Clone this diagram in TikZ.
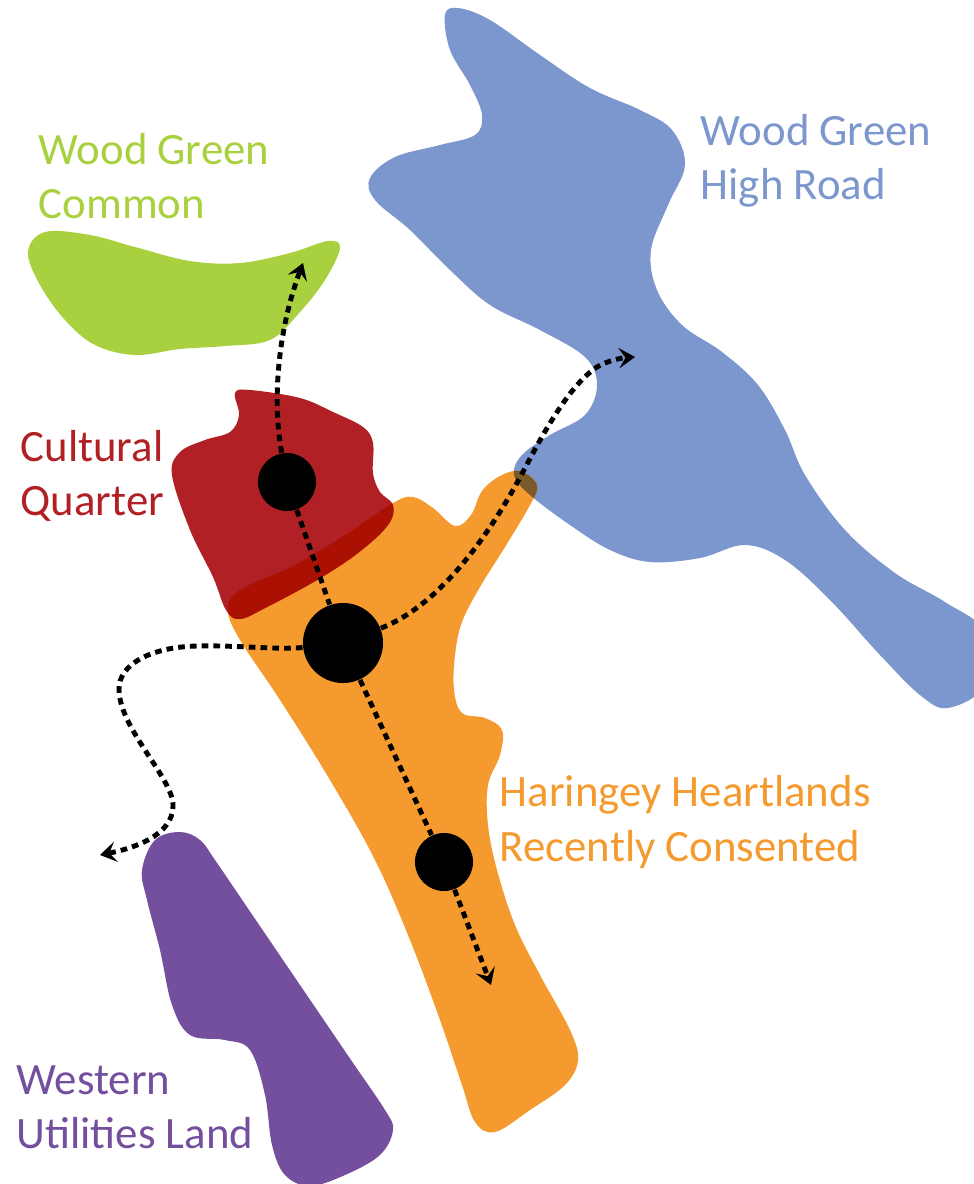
\documentclass[tikz,border=0pt]{standalone}
\usepackage{fontspec}
\setmainfont{Carlito}
\usetikzlibrary{arrows.meta,calc}

\definecolor{greenarea}{HTML}{A9D13F}
\definecolor{bluearea}{HTML}{7C96CE}
\definecolor{orangearea}{HTML}{F59A2E}
\definecolor{redarea}{HTML}{B12025}
\definecolor{purplearea}{HTML}{744F9E}
\definecolor{redorange}{HTML}{AB1103}
\definecolor{blueorange}{HTML}{7A5A28}

\tikzset{
    hub/.style={circle,fill=black,inner sep=0pt,minimum size=#1},
    route/.style={black,line width=1.4pt,dash pattern=on 1.9pt off 1.45pt},
    routetip/.style={route,-{Stealth[length=4.6pt,width=5.8pt,inset=1.9pt]}},
    arealabel/.style={align=left,anchor=north west,font=\fontsize{12.75}{15.4}\selectfont,inner sep=0pt},
    area/.style={smooth cycle,tension=0.6}
}

\def\greenpts{(45,232) (90,235) (135,247) (190,261) (240,263) (290,253) (328,241) (340,248) (325,280) (300,312) (270,340) (225,346) (180,349) (135,355) (95,345) (65,320) (40,285) (28,252)}
\def\bluepts{(445,15) (458,8) (490,20) (540,55) (590,88) (640,110) (672,130) (685,165) (668,205) (651,250) (657,290) (682,325) (722,352) (758,385) (785,430) (805,475) (845,530) (895,573) (945,602) (985,632) (985,685) (948,708) (920,695) (880,655) (830,600) (785,560) (745,545) (700,558) (650,562) (610,550) (570,525) (530,495) (514,475) (522,455) (550,435) (585,415) (597,385) (585,357) (540,330) (490,305) (450,270) (410,230) (375,200) (370,178) (395,157) (440,145) (475,135) (482,115) (470,85) (450,50)}
\def\orangepts{(413,497) (433,508) (455,526) (471,515) (482,491) (500,476) (520,471) (537,485) (530,505) (505,547) (480,587) (462,622) (455,655) (454,690) (462,713) (485,718) (502,730) (500,755) (488,785) (488,825) (497,870) (515,925) (540,975) (570,1030) (578,1060) (565,1085) (530,1110) (495,1132) (475,1122) (462,1085) (440,1020) (410,940) (375,860) (330,780) (280,700) (240,640) (228,610) (240,590) (295,565) (345,535) (393,503)}
\def\redpts{(235,393) (250,390) (300,398) (333,412) (363,427) (373,443) (373,473) (380,492) (393,505) (388,525) (358,553) (317,580) (267,607) (240,619) (226,610) (213,577) (190,530) (172,475) (180,452) (205,440) (230,432) (239,415)}
\def\purplepts{(180,832) (200,840) (215,860) (249,910) (283,960) (317,1010) (351,1060) (385,1110) (393,1130) (380,1155) (345,1175) (310,1186) (285,1175) (272,1145) (265,1095) (250,1050) (225,1040) (190,1035) (172,1005) (160,950) (147,900) (142,870) (155,840)}

\begin{document}
\begin{tikzpicture}[x=0.01cm,y=-0.01cm]
    \useasboundingbox (0,0) rectangle (974,1184);

    % Areas
    \fill[greenarea] plot[area] coordinates {\greenpts};
    \fill[bluearea] plot[area] coordinates {\bluepts};
    \fill[orangearea] plot[area] coordinates {\orangepts};
    \fill[redarea] plot[area] coordinates {\redpts};
    \fill[purplearea] plot[area] coordinates {\purplepts};

    % Overlaps
    \begin{scope}
        \clip plot[area] coordinates {\redpts};
        \fill[redorange] plot[area] coordinates {\orangepts};
    \end{scope}
    \begin{scope}
        \clip plot[area] coordinates {\bluepts};
        \fill[blueorange] plot[area] coordinates {\orangepts};
    \end{scope}

    % Hubs
    \node[hub=0.58cm] (north) at (287,482) {};
    \node[hub=0.80cm] (centre) at (343,643) {};
    \node[hub=0.58cm] (south) at (444,862) {};

    % Route ends
    \coordinate (commonend) at (303,263);
    \coordinate (roadend) at (635,357);
    \coordinate (westend) at (100,855);
    \coordinate (southend) at (491,985);

    % Routes
    \draw[route] (north) -- (centre);
    \draw[route] (centre) -- (south);
    \draw[routetip] (north) .. controls (272,400) and (278,330) .. (commonend);
    \draw[routetip] (south) -- (southend);
    \draw[routetip] (centre) .. controls (440,605) and (490,535) .. (525,468) .. controls (545,430) and (570,385) .. (597,367) .. controls (607,361) and (620,358) .. (roadend);
    \draw[routetip] (centre) .. controls (280,650) and (235,645) .. (197,646) .. controls (150,647) and (118,665) .. (119,690) .. controls (120,730) and (175,780) .. (173,807) .. controls (172,835) and (135,848) .. (westend);

    % Labels
    \node[arealabel,text=greenarea] (commonlabel) at (38,133) {Wood Green\\Common};
    \node[arealabel,text=bluearea] (roadlabel) at (700,114) {Wood Green\\High Road};
    \node[arealabel,text=redarea] (quarterlabel) at (20,430) {Cultural\\Quarter};
    \node[arealabel,text=orangearea] (heartlandslabel) at (499,775) {Haringey Heartlands\\Recently Consented};
    \node[arealabel,text=purplearea] (westernlabel) at (16,1065) {Western\\Utilities Land};
\end{tikzpicture}
\end{document}
